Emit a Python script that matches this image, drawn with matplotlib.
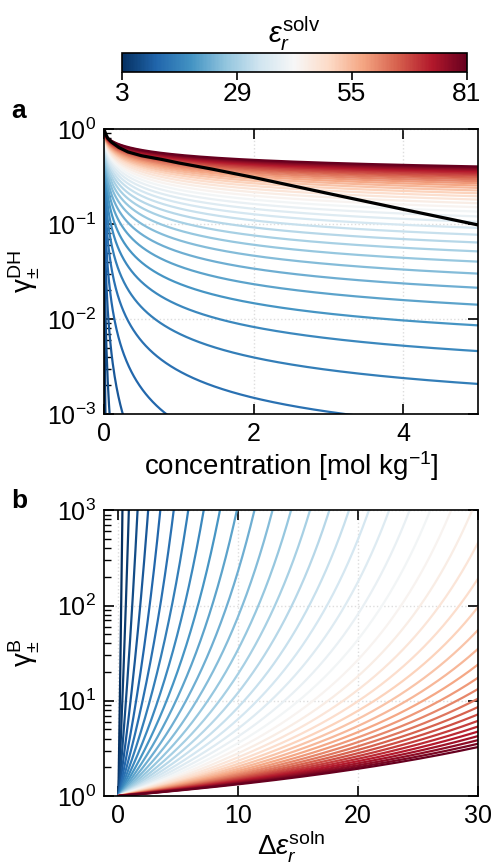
import numpy as np
import matplotlib
matplotlib.use('Agg')
import matplotlib.pyplot as plt
from matplotlib import ticker

# solvent dielectric constants (one curve each)
eps_solv = [3, 5, 7, 9, 11, 13, 15, 17, 19, 21, 23, 25, 27, 29, 31, 33, 35, 37, 39, 41,
            43, 45, 47, 49, 51, 53, 55, 57, 59, 61, 63, 65, 67, 69, 71, 73, 75, 77, 79, 81]
cbar_ticks = [3, 29, 55, 81]

# Debye-Hueckel constants (A*eps^1.5, B*a*eps^0.5) and Born prefactor
dh_A = 349.0
dh_Ba = 6.94
born_C = 163.0

# black reference curve
ref_conc = [0.0, 0.02, 0.05, 0.1, 0.2, 0.32, 0.5, 0.77, 1.0, 1.44, 2.0, 3.0, 4.0, 5.0]
ref_gamma = [1.0, 0.90, 0.80, 0.73, 0.64, 0.575, 0.525, 0.48, 0.44, 0.38, 0.31, 0.21, 0.143, 0.098]

conc = np.linspace(0, 5, 600)
deps = np.linspace(0, 30, 6001)

plt.rcParams['font.family'] = ['Liberation Sans', 'DejaVu Sans']
plt.rcParams['mathtext.fontset'] = 'custom'
plt.rcParams['mathtext.rm'] = 'Liberation Sans'
plt.rcParams['mathtext.it'] = 'Liberation Sans:italic'
plt.rcParams['mathtext.bf'] = 'Liberation Sans:bold'
plt.rcParams['font.size'] = 18

cmap = plt.get_cmap('RdBu_r')
norm = matplotlib.colors.Normalize(vmin=3, vmax=81)

fig = plt.figure(figsize=(4.92, 8.66), dpi=100)
cax = fig.add_axes([0.248, 0.9169, 0.701, 0.0219])
ax1 = fig.add_axes([0.2114, 0.5219, 0.760, 0.329])
ax2 = fig.add_axes([0.2114, 0.0808, 0.760, 0.330])

# panel a
s = np.sqrt(conc)
for e in eps_solv:
    lg = -dh_A * e**-1.5 * s / (1 + dh_Ba * e**-0.5 * s)
    ax1.plot(conc, 10**lg, color=cmap(norm(e)), lw=1.6)
ax1.plot(ref_conc, ref_gamma, color='black', lw=2.3, zorder=5)
ax1.set_yscale('log')
ax1.set_xlim(0, 5)
ax1.set_ylim(1e-3, 1)
ax1.set_xticks([0, 2, 4])
ax1.set_xlabel('concentration [mol kg$^{-1}$]', fontsize=20, labelpad=2)
ax1.set_ylabel(r'γ$_{\pm}^{\mathrm{DH}}$', fontsize=20)
ax1.yaxis.set_label_coords(-0.165, 0.5)

# panel b
for e in eps_solv:
    with np.errstate(divide='ignore', invalid='ignore'):
        lng = born_C * deps / (e * (e - deps))
    lng[deps >= e * 0.999] = np.nan
    lng[lng > 12] = np.nan
    ax2.plot(deps, np.exp(lng), color=cmap(norm(e)), lw=1.6)
ax2.set_yscale('log')
ax2.set_xlim(-1.2, 30)
ax2.set_ylim(1, 1e3)
ax2.set_xticks([0, 10, 20, 30])
ax2.set_xlabel(r'$\Delta\varepsilon_r^{\mathrm{soln}}$', fontsize=20, labelpad=0)
ax2.set_ylabel(r'γ$_{\pm}^{\mathrm{B}}$', fontsize=20)
ax2.yaxis.set_label_coords(-0.165, 0.5)

for ax in (ax1, ax2):
    ax.grid(True, which='major', ls=':', color='#dddddd', lw=1)
    ax.set_axisbelow(True)
    ax.tick_params(which='major', direction='in', length=7, width=1.2,
                   top=True, right=True, labelsize=18, pad=6)
    ax.tick_params(which='minor', direction='in', length=5, width=1,
                   left=True, right=False, top=False, bottom=False)
    ax.xaxis.set_minor_locator(ticker.NullLocator())
    for sp in ax.spines.values():
        sp.set_linewidth(1.2)

# colorbar
sm = matplotlib.cm.ScalarMappable(norm=norm, cmap=cmap)
cb = fig.colorbar(sm, cax=cax, orientation='horizontal', ticks=cbar_ticks)
cb.ax.tick_params(labelsize=19, length=6, width=1.2, pad=1)
cb.outline.set_linewidth(1.2)
cax.set_title(r'$\varepsilon_r^{\mathrm{solv}}$', fontsize=21, pad=5)

fig.text(0.022, 1 - 118 / 866, 'a', fontsize=19, fontweight='bold')
fig.text(0.022, 1 - 508 / 866, 'b', fontsize=19, fontweight='bold')

fig.savefig('out.png', dpi=100)
